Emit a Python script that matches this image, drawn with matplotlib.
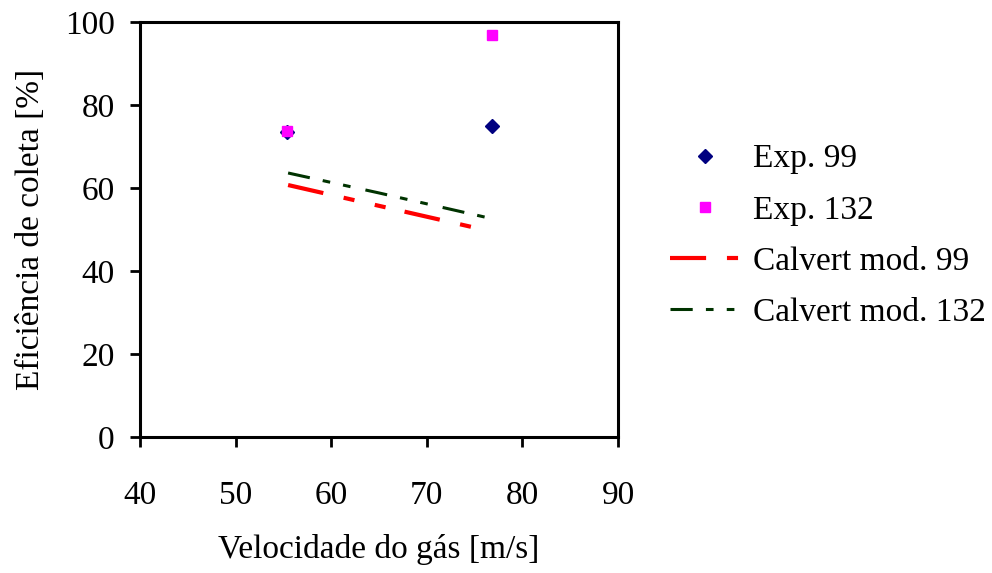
import matplotlib.pyplot as plt
import matplotlib as mpl

# velocidade do gás [m/s] e eficiência [%]
v_exp = [55.4, 76.8]
ef_exp99 = [73.5, 75.0]
ef_exp132 = [73.7, 96.9]

v_mod99 = [55.5, 65.0, 75.1]
ef_mod99 = [60.7, 55.7, 50.4]
v_mod132 = [55.5, 65.0, 77.0]
ef_mod132 = [63.6, 58.8, 52.5]

x_ticks = [40, 50, 60, 70, 80, 90]
y_ticks = [0, 20, 40, 60, 80, 100]

mpl.rcParams['font.family'] = 'Liberation Serif'
plt.rcParams['font.size'] = 24
plt.rcParams['lines.scale_dashes'] = False

fig = plt.figure(figsize=(9.92, 5.73), dpi=100)
ax = fig.add_axes([0.141, 0.237, 0.482, 0.725])

ax.plot(v_exp, ef_exp99, linestyle='none', marker='D', ms=7.5, color='#000080',
        label='Exp. 99')
ax.plot(v_exp, ef_exp132, linestyle='none', marker='s', ms=7.5, color='#ff00ff',
        label='Exp. 132')
ax.plot(v_mod99, ef_mod99, color='#ff0000', lw=3,
        dashes=(26, 15, 8, 15, 8, 14), label='Calvert mod. 99')
ax.plot(v_mod132, ef_mod132, color='#003300', lw=2.2,
        dashes=(16, 9.5, 5.5, 9.5, 5.5, 11), label='Calvert mod. 132')

ax.set_xlim(40, 90)
ax.set_ylim(0, 100)
ax.set_xticks(x_ticks)
ax.set_yticks(y_ticks)
ax.tick_params(direction='out', length=7, width=2, pad=11)
ax.tick_params(axis='x', pad=24)
for s in ax.spines.values():
    s.set_linewidth(2.2)

ax.set_xlabel('Velocidade do gás [m/s]', labelpad=17)
ax.set_ylabel('Eficiência de coleta [%]', labelpad=14)

fig.legend(loc='upper left', bbox_to_anchor=(0.662, 0.772), frameon=False,
           handlelength=2.1, handletextpad=0.4, labelspacing=0.62,
           borderaxespad=0)

fig.savefig('out.png', dpi=100)
